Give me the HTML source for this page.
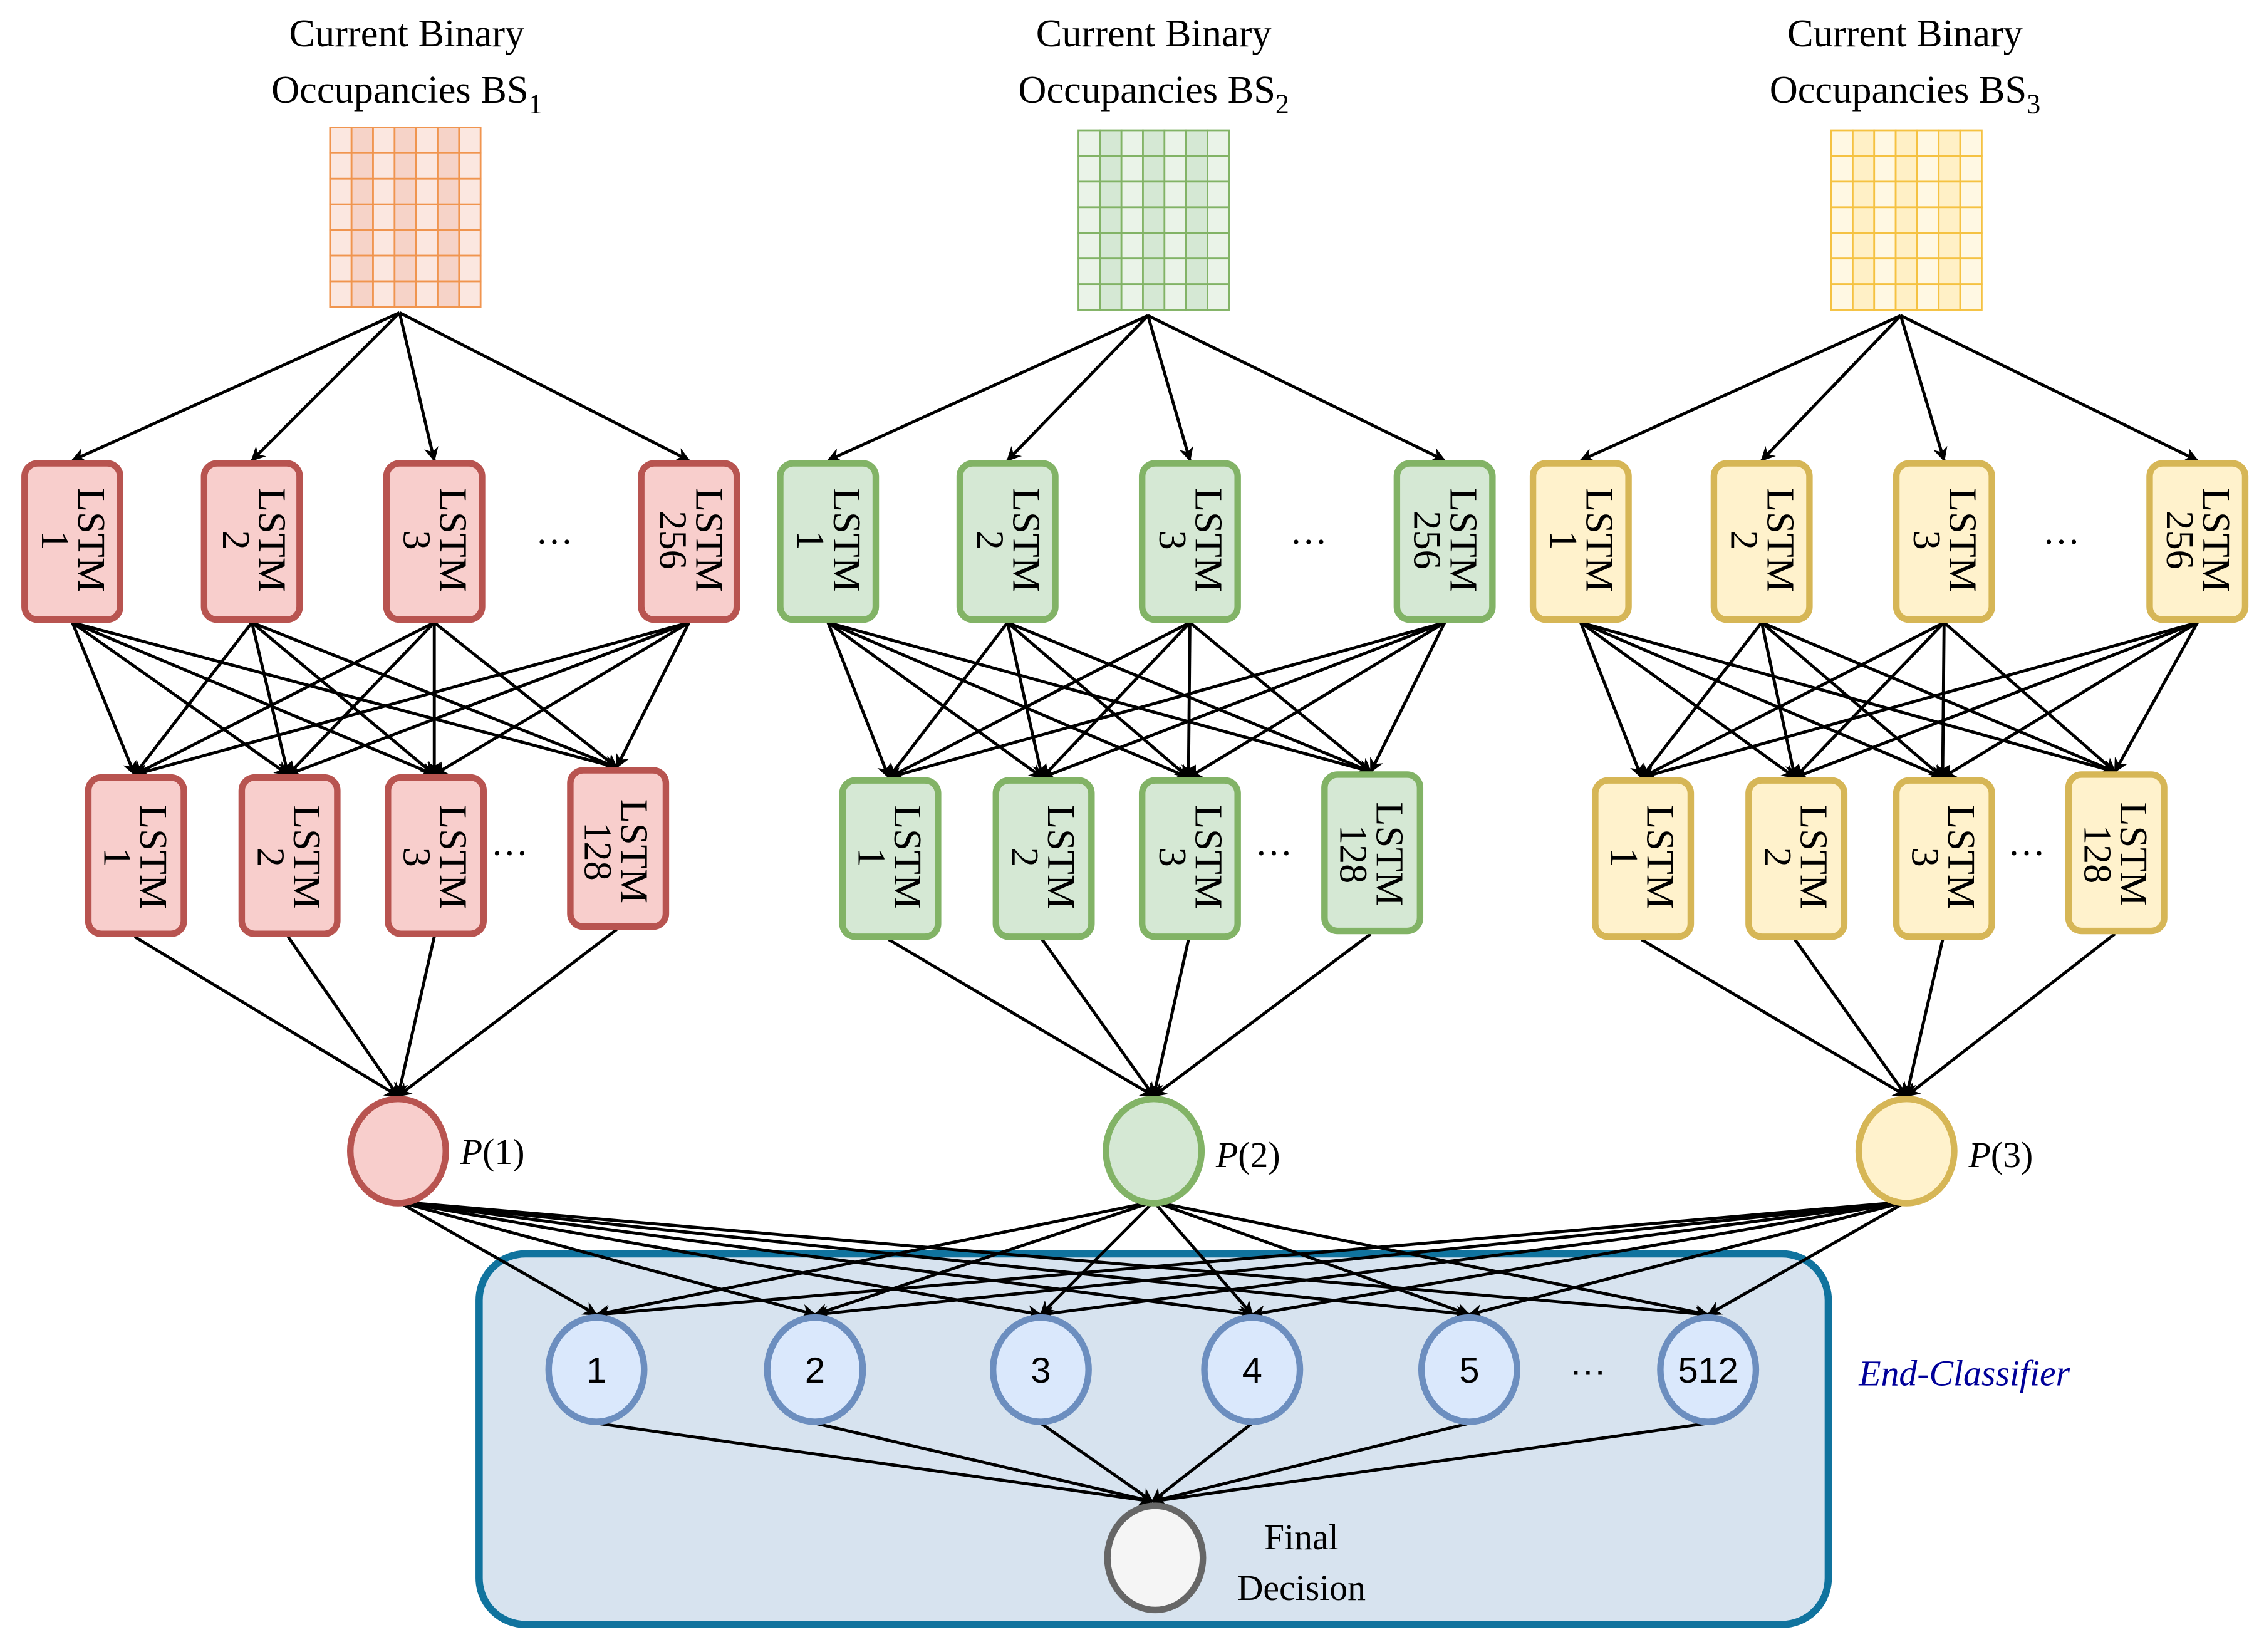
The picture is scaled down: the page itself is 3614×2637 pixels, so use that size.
<!DOCTYPE html>
<html><head><meta charset="utf-8"><style>
html,body{margin:0;padding:0;background:#fff;width:3614px;height:2637px;overflow:hidden}
svg{display:block}
.t{font-family:"Liberation Serif",serif;fill:#000}
.s{font-family:"Liberation Sans",sans-serif;fill:#000}
</style></head><body>
<svg id="svg" width="3614" height="2637" viewBox="0 0 1564 1141" preserveAspectRatio="none" xmlns="http://www.w3.org/2000/svg">
<defs>
<marker id="ah" viewBox="0 0 10 10" refX="9" refY="5" markerWidth="10" markerHeight="10" orient="auto" markerUnits="userSpaceOnUse">
<path d="M0,0 L10,5 L0,10 L3,5 z" fill="#000"/>
</marker>
</defs>
<rect x="331" y="866" width="932" height="256" rx="32" fill="#d7e3ef" stroke="#10739e" stroke-width="5"/>
<g id="grids"></g>
<g id="lines" stroke="#000" stroke-width="2.1" fill="none"></g>
<g id="boxes"></g>
<g id="txt">
<text class="t" x="281" y="32" font-size="27" text-anchor="middle">Current Binary</text>
<text class="t" x="281" y="71" font-size="27" text-anchor="middle">Occupancies BS<tspan font-size="19" dy="7">1</tspan></text>
<text class="t" x="797" y="32" font-size="27" text-anchor="middle">Current Binary</text>
<text class="t" x="797" y="71" font-size="27" text-anchor="middle">Occupancies BS<tspan font-size="19" dy="7">2</tspan></text>
<text class="t" x="1316" y="32" font-size="27" text-anchor="middle">Current Binary</text>
<text class="t" x="1316" y="71" font-size="27" text-anchor="middle">Occupancies BS<tspan font-size="19" dy="7">3</tspan></text>
<g class="t" font-size="27">
<text transform="translate(50,373) rotate(90)" text-anchor="middle"><tspan x="0" y="-4">LSTM</tspan><tspan x="0" y="21">1</tspan></text>
<text transform="translate(175,373) rotate(90)" text-anchor="middle"><tspan x="0" y="-4">LSTM</tspan><tspan x="0" y="21">2</tspan></text>
<text transform="translate(300,373) rotate(90)" text-anchor="middle"><tspan x="0" y="-4">LSTM</tspan><tspan x="0" y="21">3</tspan></text>
<text transform="translate(477,373) rotate(90)" text-anchor="middle"><tspan x="0" y="-4">LSTM</tspan><tspan x="0" y="21">256</tspan></text>
<text transform="translate(572,373) rotate(90)" text-anchor="middle"><tspan x="0" y="-4">LSTM</tspan><tspan x="0" y="21">1</tspan></text>
<text transform="translate(696,373) rotate(90)" text-anchor="middle"><tspan x="0" y="-4">LSTM</tspan><tspan x="0" y="21">2</tspan></text>
<text transform="translate(822,373) rotate(90)" text-anchor="middle"><tspan x="0" y="-4">LSTM</tspan><tspan x="0" y="21">3</tspan></text>
<text transform="translate(998,373) rotate(90)" text-anchor="middle"><tspan x="0" y="-4">LSTM</tspan><tspan x="0" y="21">256</tspan></text>
<text transform="translate(1092,373) rotate(90)" text-anchor="middle"><tspan x="0" y="-4">LSTM</tspan><tspan x="0" y="21">1</tspan></text>
<text transform="translate(1217,373) rotate(90)" text-anchor="middle"><tspan x="0" y="-4">LSTM</tspan><tspan x="0" y="21">2</tspan></text>
<text transform="translate(1343,373) rotate(90)" text-anchor="middle"><tspan x="0" y="-4">LSTM</tspan><tspan x="0" y="21">3</tspan></text>
<text transform="translate(1518,373) rotate(90)" text-anchor="middle"><tspan x="0" y="-4">LSTM</tspan><tspan x="0" y="21">256</tspan></text>
<text transform="translate(93,592) rotate(90)" text-anchor="middle"><tspan x="0" y="-4">LSTM</tspan><tspan x="0" y="21">1</tspan></text>
<text transform="translate(199,592) rotate(90)" text-anchor="middle"><tspan x="0" y="-4">LSTM</tspan><tspan x="0" y="21">2</tspan></text>
<text transform="translate(300,592) rotate(90)" text-anchor="middle"><tspan x="0" y="-4">LSTM</tspan><tspan x="0" y="21">3</tspan></text>
<text transform="translate(425,588) rotate(90)" text-anchor="middle"><tspan x="0" y="-4">LSTM</tspan><tspan x="0" y="21">128</tspan></text>
<text transform="translate(614,592) rotate(90)" text-anchor="middle"><tspan x="0" y="-4">LSTM</tspan><tspan x="0" y="21">1</tspan></text>
<text transform="translate(720,592) rotate(90)" text-anchor="middle"><tspan x="0" y="-4">LSTM</tspan><tspan x="0" y="21">2</tspan></text>
<text transform="translate(822,592) rotate(90)" text-anchor="middle"><tspan x="0" y="-4">LSTM</tspan><tspan x="0" y="21">3</tspan></text>
<text transform="translate(947,590) rotate(90)" text-anchor="middle"><tspan x="0" y="-4">LSTM</tspan><tspan x="0" y="21">128</tspan></text>
<text transform="translate(1134,592) rotate(90)" text-anchor="middle"><tspan x="0" y="-4">LSTM</tspan><tspan x="0" y="21">1</tspan></text>
<text transform="translate(1240,592) rotate(90)" text-anchor="middle"><tspan x="0" y="-4">LSTM</tspan><tspan x="0" y="21">2</tspan></text>
<text transform="translate(1342,592) rotate(90)" text-anchor="middle"><tspan x="0" y="-4">LSTM</tspan><tspan x="0" y="21">3</tspan></text>
<text transform="translate(1461,590) rotate(90)" text-anchor="middle"><tspan x="0" y="-4">LSTM</tspan><tspan x="0" y="21">128</tspan></text>
</g>
<g class="t" font-size="26" text-anchor="middle">
<text x="383" y="383">···</text><text x="904" y="383">···</text><text x="1424" y="383">···</text>
<text x="352" y="598">···</text><text x="880" y="598">···</text><text x="1400" y="598">···</text>
</g>
<g class="t" font-size="25">
<text x="318" y="804"><tspan font-style="italic">P</tspan>(1)</text>
<text x="840" y="806"><tspan font-style="italic">P</tspan>(2)</text>
<text x="1360" y="806"><tspan font-style="italic">P</tspan>(3)</text>
<text x="899" y="1070" text-anchor="middle">Final</text>
<text x="899" y="1105" text-anchor="middle">Decision</text>
<text x="1357" y="957" text-anchor="middle" font-style="italic" style="fill:#000099">End-Classifier</text>
</g>
<g class="s" font-size="25" text-anchor="middle">
<text x="412" y="955">1</text><text x="563" y="955">2</text><text x="719" y="955">3</text>
<text x="865" y="955">4</text><text x="1015" y="955">5</text><text x="1180" y="955">512</text>
<text x="1097" y="955">···</text>
</g>
</g>
</svg>
<script>
(function(){
var NS="http://www.w3.org/2000/svg";
function el(p,n,a){var e=document.createElementNS(NS,n);for(var k in a)e.setAttribute(k,a[k]);p.appendChild(e);return e;}
var G=document.getElementById('grids'),L=document.getElementById('lines'),B=document.getElementById('boxes');
var cols=[{g:[228,88],c1:'#fbe7e0',c2:'#f6d3c8',s:'#f0954f',f:'#f8cecc',st:'#b85450'},
{g:[745,90],c1:'#eaf3e8',c2:'#d5e8d4',s:'#82b366',f:'#d5e8d4',st:'#82b366'},
{g:[1265,90],c1:'#fff8e3',c2:'#fff0c6',s:'#f5c242',f:'#fff2cc',st:'#d6b656'}];
var topX=[[15,139,265,441],[537,661,787,963],[1057,1182,1308,1483]];
var secX=[[59,165,266,392],[580,686,787,913],[1100,1206,1308,1427]];
var secY=[[537,537,537,532],[539,539,539,535],[539,539,539,535]];
var pc=[275,797,1317];
for(var i=0;i<3;i++){
 var c=cols[i];
 var gx=c.g[0],gy=c.g[1],w=104/7,h=124/7;
 for(var a=0;a<7;a++)for(var b=0;b<7;b++)el(G,'rect',{x:gx+a*w,y:gy+b*h,width:w,height:h,fill:(a%2?c.c2:c.c1),stroke:c.s,'stroke-width':1.2});
 var sx=gx+48,sy=gy+128;
 for(var k=0;k<4;k++){
  el(L,'line',{x1:sx,y1:sy,x2:topX[i][k]+35,y2:318,'marker-end':'url(#ah)'});
  for(var j=0;j<4;j++)el(L,'line',{x1:topX[i][k]+35,y1:430,x2:secX[i][j]+34,y2:secY[i][j]-2,'marker-end':'url(#ah)'});
 }
 for(var j=0;j<4;j++)el(L,'line',{x1:secX[i][j]+34,y1:secY[i][j]+110,x2:pc[i],y2:757,'marker-end':'url(#ah)'});
 for(var k=0;k<4;k++)el(B,'rect',{x:topX[i][k]+2,y:320,width:66,height:108,rx:9,fill:c.f,stroke:c.st,'stroke-width':4.5});
 for(var j=0;j<4;j++)el(B,'rect',{x:secX[i][j]+2,y:secY[i][j],width:66,height:108,rx:9,fill:c.f,stroke:c.st,'stroke-width':4.5});
 el(B,'ellipse',{cx:pc[i],cy:795,rx:33,ry:36,fill:c.f,stroke:c.st,'stroke-width':4.5});
}
var sc=[412,563,719,865,1015,1180];
for(var p=0;p<3;p++)for(var q=0;q<6;q++)el(L,'line',{x1:pc[p],y1:830,x2:sc[q],y2:908,'marker-end':'url(#ah)'});
for(var q=0;q<6;q++){el(L,'line',{x1:sc[q],y1:983,x2:796,y2:1037,'marker-end':'url(#ah)'});
 el(B,'ellipse',{cx:sc[q],cy:946,rx:33,ry:36,fill:'#dae8fc',stroke:'#6c8ebf','stroke-width':4.5});}
el(B,'ellipse',{cx:798,cy:1076,rx:33,ry:36,fill:'#f5f5f5',stroke:'#666','stroke-width':4.5});
var svg=document.getElementById('svg');
svg.appendChild(document.getElementById('txt'));
})();
</script>
</body></html>
